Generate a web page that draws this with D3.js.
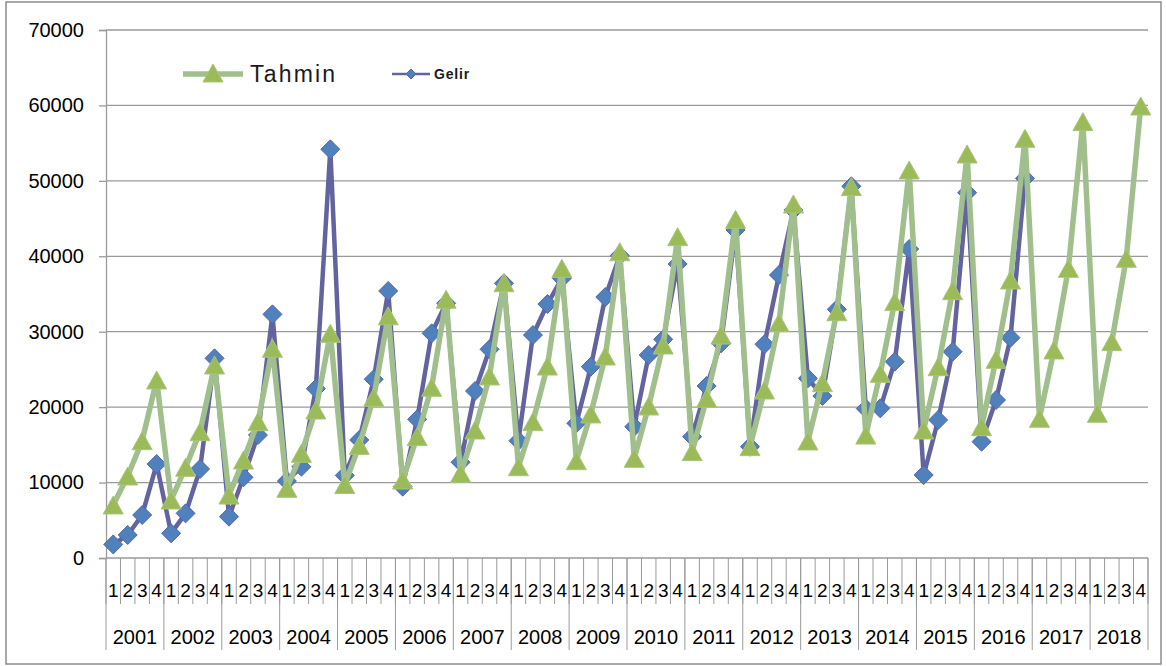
<!DOCTYPE html>
<html>
<head>
<meta charset="utf-8">
<script src="https://cdn.jsdelivr.net/npm/d3@7/dist/d3.min.js"></script>
<style>
  html, body { margin: 0; padding: 0; background: #fff; }
  svg { display: block; font-family: "Liberation Sans", Arial, sans-serif; }
</style>
</head>
<body>
<svg id="chart" width="1166" height="666"></svg>
<script>
const years = ["2001","2002","2003","2004","2005","2006","2007","2008","2009","2010","2011","2012","2013","2014","2015","2016","2017","2018"];
const quarters = ["1","2","3","4"];
const yTicks = [0,10000,20000,30000,40000,50000,60000,70000];

const gelir = [
  1800, 3050, 5700, 12450,
  3270, 5920, 11800, 26470,
  5480, 10700, 16300, 32300,
  10200, 12100, 22450, 54180,
  10950, 15650, 23700, 35400,
  9460, 18390, 29790, 33770,
  12690, 22140, 27670, 36420,
  15550, 29560, 33670, 37080,
  17850, 25360, 34600, 40100,
  17410, 26910, 28990, 38980,
  16090, 22800, 28460, 43480,
  14760, 28330, 37520, 46140,
  23820, 21480, 32970, 49280,
  19800, 19840, 26030, 40960,
  11000, 18300, 27350, 48430,
  15420, 20950, 29210, 50330
];

const tahmin = [
  7030, 10870, 15550, 23600,
  7690, 12020, 16750, 25590,
  8350, 12990, 18070, 27800,
  9240, 13880, 19620, 29790,
  9750, 14930, 21300, 32100,
  10340, 16090, 22630, 34300,
  11230, 16970, 24130, 36500,
  12100, 18070, 25450, 38400,
  12900, 19100, 26780, 40600,
  13220, 20150, 28240, 42600,
  14100, 21170, 29560, 44900,
  14760, 22270, 31200, 46930,
  15510, 23240, 32650, 49230,
  16300, 24480, 33990, 51440,
  16970, 25360, 35440, 53560,
  17410, 26340, 36860, 55640,
  18520, 27580, 38400, 57850,
  19180, 28680, 39730, 59920
];

const cats = [];
years.forEach(y => quarters.forEach(q => cats.push(y + "-" + q)));

const svg = d3.select("#chart");
const L = 106, R = 1148, T = 30, B = 558;

const x = d3.scaleBand().domain(cats).range([L, R]).padding(0);
const yr = d3.scaleBand().domain(years).range([L, R]).padding(0);
const y = d3.scaleLinear().domain([0, 70000]).range([B, T]);

const axisCol = "#9a9a9a";

// outer border
svg.append("rect").attr("x", 6).attr("y", 2).attr("width", 1155).attr("height", 662)
  .attr("fill", "none").attr("stroke", "#8c8c8c").attr("stroke-width", 1.5);

// gridlines
svg.append("g").selectAll("line").data(yTicks.filter(d => d > 0)).join("line")
  .attr("x1", L).attr("x2", R).attr("y1", d => y(d)).attr("y2", d => y(d))
  .attr("stroke", axisCol).attr("stroke-width", 1.3);

// y axis
const yAxis = svg.append("g").attr("transform", `translate(${L},0)`)
  .call(d3.axisLeft(y).tickValues(yTicks).tickSize(7).tickPadding(15).tickFormat(d3.format("d")));
yAxis.select(".domain").attr("stroke", axisCol).attr("stroke-width", 1.3);
yAxis.selectAll(".tick line").attr("stroke", axisCol).attr("stroke-width", 1.3);
yAxis.selectAll(".tick text").attr("font-size", 20).attr("fill", "#000")
  .attr("font-family", "'Liberation Sans', Arial, sans-serif");

// x axis line
svg.append("line").attr("x1", L).attr("x2", R).attr("y1", B).attr("y2", B)
  .attr("stroke", axisCol).attr("stroke-width", 1.3);

// quarter separators
const qBounds = cats.map(c => x(c)).concat([R]);
svg.append("g").selectAll("line").data(qBounds).join("line")
  .attr("x1", d => d).attr("x2", d => d).attr("y1", B).attr("y2", 604)
  .attr("stroke", axisCol).attr("stroke-width", 1);
// year separators
const yBounds = years.map(d => yr(d)).concat([R]);
svg.append("g").selectAll("line").data(yBounds).join("line")
  .attr("x1", d => d).attr("x2", d => d).attr("y1", B).attr("y2", 650)
  .attr("stroke", axisCol).attr("stroke-width", 1);

// quarter labels
svg.append("g").selectAll("text").data(cats).join("text")
  .attr("x", d => x(d) + x.bandwidth() / 2).attr("y", 597)
  .attr("text-anchor", "middle").attr("font-size", 19).attr("fill", "#000")
  .text(d => d.split("-")[1]);
// year labels
svg.append("g").selectAll("text").data(years).join("text")
  .attr("x", d => yr(d) + yr.bandwidth() / 2).attr("y", 644)
  .attr("text-anchor", "middle").attr("font-size", 20).attr("fill", "#000")
  .text(d => d);

const cx = i => x(cats[i]) + x.bandwidth() / 2;

const blueLine = "#63649f", blueFill = "#4f81bd";
const greenLine = "#a0bf8c", greenFill = "#9bbb59";

function diamond(s) { return `M0,${-s}L${s},0L0,${s}L${-s},0Z`; }
function tri(w, h) { return `M0,${-h/2}L${w/2},${h/2}L${-w/2},${h/2}Z`; }

// Gelir series
const lineGen = d3.line().x((d, i) => cx(i)).y(d => y(d));
svg.append("path").datum(gelir).attr("d", lineGen)
  .attr("fill", "none").attr("stroke", blueLine).attr("stroke-width", 4.5).attr("stroke-linejoin", "round");
svg.append("g").selectAll("path").data(gelir).join("path")
  .attr("transform", (d, i) => `translate(${cx(i)},${y(d)})`)
  .attr("d", diamond(9.5)).attr("fill", blueFill).attr("stroke", "#5b63a6").attr("stroke-width", 1);

// Tahmin series
svg.append("path").datum(tahmin).attr("d", lineGen)
  .attr("fill", "none").attr("stroke", greenLine).attr("stroke-width", 5.5).attr("stroke-linejoin", "round");
svg.append("g").selectAll("path").data(tahmin).join("path")
  .attr("transform", (d, i) => `translate(${cx(i)},${y(d)})`)
  .attr("d", tri(20, 18)).attr("fill", greenFill).attr("stroke", "#a9c47e").attr("stroke-width", 1);

// legend
const lg = svg.append("g");
lg.append("line").attr("x1", 183).attr("x2", 243).attr("y1", 74).attr("y2", 74)
  .attr("stroke", greenLine).attr("stroke-width", 5.5);
lg.append("path").attr("transform", "translate(213,73)").attr("d", tri(20, 18))
  .attr("fill", greenFill).attr("stroke", "#a9c47e");
lg.append("text").attr("x", 250).attr("y", 82).attr("font-size", 23).attr("letter-spacing", 2.2)
  .attr("fill", "#1a1a1a").text("Tahmin");

lg.append("line").attr("x1", 392).attr("x2", 430).attr("y1", 74).attr("y2", 74)
  .attr("stroke", blueLine).attr("stroke-width", 2.5);
lg.append("path").attr("transform", "translate(411,74)").attr("d", diamond(5))
  .attr("fill", blueFill).attr("stroke", "#5b63a6").attr("stroke-width", 1);
lg.append("text").attr("x", 434).attr("y", 79).attr("font-size", 14).attr("font-weight", "bold")
  .attr("letter-spacing", 0.8).attr("fill", "#1a1a1a").text("Gelir");
</script>
</body>
</html>
